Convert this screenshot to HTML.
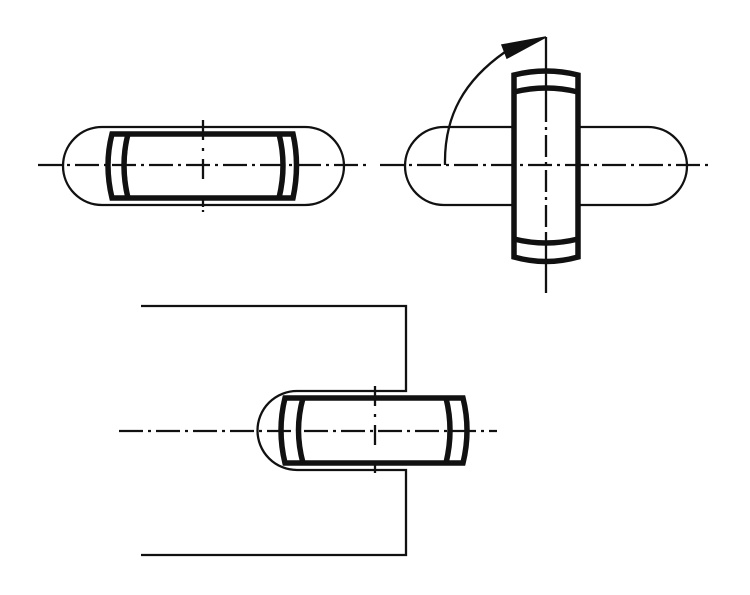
<!DOCTYPE html>
<html><head><style>html,body{margin:0;padding:0;background:#fff}svg{display:block}</style></head>
<body>
<svg width="750" height="595" viewBox="0 0 750 595" xmlns="http://www.w3.org/2000/svg">
<g fill="none" stroke="#111" stroke-linecap="butt">
<!-- View 1 -->
<path d="M102,127 H305 A39,39 0 0 1 305,205 H102 A39,39 0 0 1 102,127 Z" stroke-width="2.3"/>
<path d="M112,134 H293 Q300,165 293,198 H112 Q104,165 112,134 Z" stroke-width="5.5" fill="#fff"/>
<path d="M128,134 Q120,165 128,198" stroke-width="5.5"/>
<path d="M279,134 Q287,165 279,198" stroke-width="5.5"/>
<line x1="38" y1="165" x2="368" y2="165" stroke-width="2.3" stroke-dasharray="24,5,3,5"/>
<line x1="203" y1="120" x2="203" y2="212" stroke-width="2.3" stroke-dasharray="20,8,3,8,20"/>
<!-- View 2 -->
<path d="M444,127 H648 A39,39 0 0 1 648,205 H444 A39,39 0 0 1 444,127 Z" stroke-width="2.3"/>
<path d="M514,75 Q546,67 578,75 V257 Q546,266 514,257 Z" stroke-width="5.5" fill="#fff"/>
<path d="M514,92 Q546,84 578,92" stroke-width="5.5"/>
<path d="M514,239 Q546,247 578,239" stroke-width="5.5"/>
<line x1="380" y1="165" x2="712" y2="165" stroke-width="2.3" stroke-dasharray="24,5,3,5"/>
<line x1="546" y1="37" x2="546" y2="100" stroke-width="2.3"/>
<line x1="546" y1="100" x2="546" y2="232" stroke-width="2.3" stroke-dasharray="22,5,3,5"/>
<line x1="546" y1="232" x2="546" y2="293" stroke-width="2.3"/>
<path d="M445,165 C444,115 465,80 505,52" stroke-width="2.3"/>
<path d="M546,37 L502,45 L507,58 Z" fill="#111" stroke-width="1.5"/>
<!-- View 3 -->
<path d="M141,306 H406 V391 H297 A39,39 0 0 0 297,470 H406 V555 H141" stroke-width="2.3"/>
<path d="M285,398 H463 Q471,430 463,463 H285 Q277,430 285,398 Z" stroke-width="5.5" fill="#fff"/>
<path d="M303,398 Q294,430 303,463" stroke-width="5.5"/>
<path d="M446,398 Q454,430 446,463" stroke-width="5.5"/>
<line x1="119" y1="431" x2="497" y2="431" stroke-width="2.3" stroke-dasharray="24,5,3,5"/>
<line x1="375" y1="386" x2="375" y2="476" stroke-width="2.3" stroke-dasharray="20,8,3,8,20"/>
</g>
</svg>
</body></html>
